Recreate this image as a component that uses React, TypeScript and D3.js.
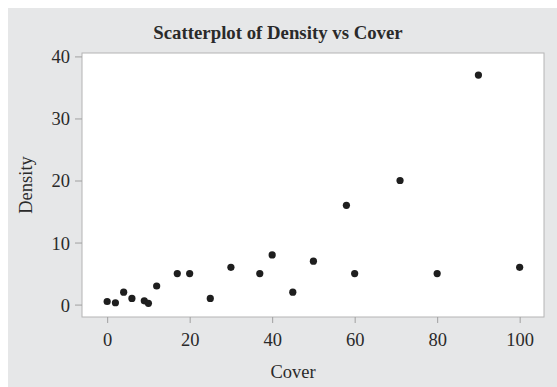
import React, {useEffect, useRef} from "react";
import * as d3 from "d3";

const cover: number[] = [0, 2, 4, 6, 9, 10, 12, 17, 20, 25, 30, 37, 40, 45, 50, 58, 60, 71, 80, 90, 100];
const density: number[] = [0.5, 0.3, 2, 1, 0.6, 0.2, 3, 5, 5, 1, 6, 5, 8, 2, 7, 16, 5, 20, 5, 37, 6];
const xTicks: number[] = [0, 20, 40, 60, 80, 100];
const yTicks: number[] = [0, 10, 20, 30, 40];

const W = 557;
const H = 387;
const FONT = "'Liberation Serif', 'DejaVu Serif', serif";

function App() {
    const ref = useRef<SVGSVGElement>(null);

    useEffect(() => {
        const svg = d3.select(ref.current);
        svg.selectAll("*").remove();

        const plot = {left: 82, top: 53, right: 544, bottom: 317};

        svg.append("rect")
            .attr("x", 8).attr("y", 8)
            .attr("width", W - 8).attr("height", H - 8)
            .attr("fill", "#e6e7e8");

        const x = d3.scaleLinear().domain([-6.1, 105.9]).range([plot.left, plot.right]);
        const y = d3.scaleLinear().domain([-2, 40.55]).range([plot.bottom, plot.top]);

        svg.append("rect")
            .attr("x", plot.left).attr("y", plot.top)
            .attr("width", plot.right - plot.left).attr("height", plot.bottom - plot.top)
            .attr("fill", "#ffffff")
            .attr("stroke", "#b4b4b4")
            .attr("stroke-width", 1);

        const xAxis = svg.append("g")
            .attr("transform", `translate(0,${plot.bottom})`)
            .call(d3.axisBottom(x).tickValues(xTicks).tickSize(6).tickPadding(10).tickFormat(d3.format("d")));
        xAxis.select(".domain").remove();

        const yAxis = svg.append("g")
            .attr("transform", `translate(${plot.left},0)`)
            .call(d3.axisLeft(y).tickValues(yTicks).tickSize(7).tickPadding(5).tickFormat(d3.format("d")));
        yAxis.select(".domain").remove();

        [xAxis, yAxis].forEach((g) => {
            g.selectAll(".tick line").attr("stroke", "#a0a0a0");
            g.selectAll(".tick text")
                .attr("fill", "#2a2a2a")
                .style("font-family", FONT)
                .style("font-size", "18.5px");
        });
        yAxis.selectAll(".tick text").attr("dy", "0.35em");

        svg.append("g")
            .selectAll("circle")
            .data(d3.zip(cover, density))
            .enter()
            .append("circle")
            .attr("cx", (d: number[]) => x(d[0]))
            .attr("cy", (d: number[]) => y(d[1]))
            .attr("r", 3.6)
            .attr("fill", "#1e1e1e");

        svg.append("text")
            .attr("x", 278).attr("y", 39)
            .attr("text-anchor", "middle")
            .attr("fill", "#2a2a2a")
            .style("font-family", FONT)
            .style("font-size", "18.8px")
            .style("font-weight", "bold")
            .text("Scatterplot of Density vs Cover");

        svg.append("text")
            .attr("x", (plot.left + plot.right) / 2 - 20).attr("y", 378)
            .attr("text-anchor", "middle")
            .attr("fill", "#2a2a2a")
            .style("font-family", FONT)
            .style("font-size", "18.5px")
            .text("Cover");

        svg.append("text")
            .attr("transform", `translate(32,${(plot.top + plot.bottom) / 2}) rotate(-90)`)
            .attr("text-anchor", "middle")
            .attr("fill", "#2a2a2a")
            .style("font-family", FONT)
            .style("font-size", "18.5px")
            .text("Density");
    }, []);

    return (
        <svg ref={ref} width={W} height={H}
             style={{position: "absolute", left: 0, top: 0, display: "block"}}></svg>
    );
}

export default App;
